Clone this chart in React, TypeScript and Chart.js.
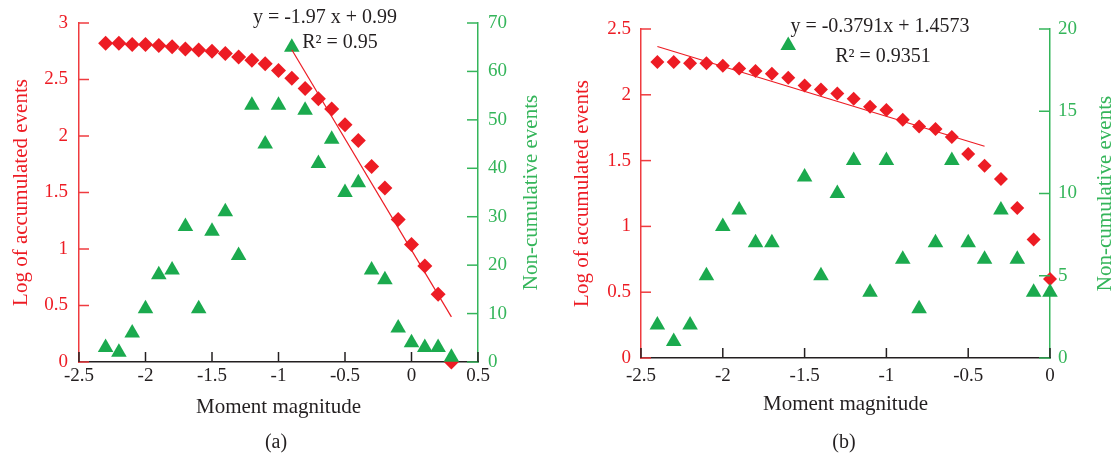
import React, { useEffect, useRef } from 'react';
import { Chart, registerables } from 'chart.js';

Chart.register(...registerables);

// ---------- Data: panel (a) ----------
const magnitudeA = [-2.3, -2.2, -2.1, -2.0, -1.9, -1.8, -1.7, -1.6, -1.5, -1.4, -1.3, -1.2, -1.1, -1.0, -0.9, -0.8, -0.7, -0.6, -0.5, -0.4, -0.3, -0.2, -0.1, 0.0, 0.1, 0.2, 0.3];
const logAccumulatedA = [2.82, 2.82, 2.81, 2.81, 2.80, 2.79, 2.77, 2.76, 2.75, 2.73, 2.70, 2.67, 2.64, 2.58, 2.51, 2.42, 2.33, 2.24, 2.10, 1.96, 1.73, 1.54, 1.26, 1.04, 0.85, 0.60, 0.0];
const nonCumulativeA = [3, 2, 6, 11, 18, 19, 28, 11, 27, 31, 22, 53, 45, 53, 65, 52, 41, 46, 35, 37, 19, 17, 7, 4, 3, 3, 1];
const trendXA = [-0.9, 0.3];
const trendYA = [2.763, 0.399];
const xTickLabelsA = ['-2.5', '-2', '-1.5', '-1', '-0.5', '0', '0.5'];
const yTickLabelsA = ['0', '0.5', '1', '1.5', '2', '2.5', '3'];
const y1TickLabelsA = ['0', '10', '20', '30', '40', '50', '60', '70'];

// ---------- Data: panel (b) ----------
const magnitudeB = [-2.4, -2.3, -2.2, -2.1, -2.0, -1.9, -1.8, -1.7, -1.6, -1.5, -1.4, -1.3, -1.2, -1.1, -1.0, -0.9, -0.8, -0.7, -0.6, -0.5, -0.4, -0.3, -0.2, -0.1, 0.0];
const logAccumulatedB = [2.25, 2.25, 2.24, 2.24, 2.22, 2.20, 2.18, 2.16, 2.13, 2.07, 2.04, 2.01, 1.97, 1.91, 1.885, 1.81, 1.76, 1.74, 1.68, 1.55, 1.46, 1.36, 1.14, 0.90, 0.60];
const nonCumulativeB = [2, 1, 2, 5, 8, 9, 7, 7, 19, 11, 5, 10, 12, 4, 12, 6, 3, 7, 12, 7, 6, 9, 6, 4, 4];
const trendXB = [-2.4, -0.4];
const trendYB = [2.367, 1.609];
const xTickLabelsB = ['-2.5', '-2', '-1.5', '-1', '-0.5', '0'];
const yTickLabelsB = ['0', '0.5', '1', '1.5', '2', '2.5'];
const y1TickLabelsB = ['0', '5', '10', '15', '20'];

const FONT = '"Liberation Serif", "Times New Roman", serif';
const RED = '#ED1C24';
const RED_AXIS = '#EF3B3F';
const GREEN = '#1BAA4E';
const GREEN_AXIS = '#34B55A';
const BLACK = '#231F20';

interface PanelSpec {
  id: string;
  left: number;
  width: number;
  height: number;
  padTop: number;
  leftW: number;
  rightW: number;
  bottomH: number;
  xMin: number;
  xMax: number;
  yMax: number;
  y1Max: number;
  y1Step: number;
  xPad: number;
  yPad: number;
  y1Pad: number;
  diamondR: number;
  mags: number[];
  logs: number[];
  counts: number[];
  trendX: number[];
  trendY: number[];
  xLabels: string[];
  yLabels: string[];
  y1Labels: string[];
  leftTitleX: number;
  rightTitleX: number;
  xTitleY: number;
  caption: string;
  captionX: number;
  captionY: number;
  eq: string;
  eqX: number;
  eqY: number;
  r2: string;
  r2X: number;
  r2Y: number;
}

const panels: PanelSpec[] = [
  {
    id: 'a', left: 0, width: 556, height: 459, padTop: 23, leftW: 79, rightW: 78, bottomH: 97,
    xMin: -2.5, xMax: 0.5, yMax: 3, y1Max: 70, y1Step: 10, xPad: 3, yPad: 11, y1Pad: 10, diamondR: 7.5,
    mags: magnitudeA, logs: logAccumulatedA, counts: nonCumulativeA, trendX: trendXA, trendY: trendYA,
    xLabels: xTickLabelsA, yLabels: yTickLabelsA, y1Labels: y1TickLabelsA,
    leftTitleX: 27, rightTitleX: 537, xTitleY: 413,
    caption: '(a)', captionX: 276, captionY: 448,
    eq: 'y = -1.97 x + 0.99', eqX: 325, eqY: 23, r2: 'R\u00B2 = 0.95', r2X: 340, r2Y: 48,
  },
  {
    id: 'b', left: 556, width: 557, height: 459, padTop: 29, leftW: 85, rightW: 63, bottomH: 101,
    xMin: -2.5, xMax: 0, yMax: 2.5, y1Max: 20, y1Step: 5, xPad: 7, yPad: 10, y1Pad: 8, diamondR: 7,
    mags: magnitudeB, logs: logAccumulatedB, counts: nonCumulativeB, trendX: trendXB, trendY: trendYB,
    xLabels: xTickLabelsB, yLabels: yTickLabelsB, y1Labels: y1TickLabelsB,
    leftTitleX: 32, rightTitleX: 555, xTitleY: 410,
    caption: '(b)', captionX: 288, captionY: 448,
    eq: 'y = -0.3791x + 1.4573', eqX: 324, eqY: 32, r2: 'R\u00B2 = 0.9351', r2X: 327, r2Y: 62,
  },
];

function decorPlugin(p: PanelSpec) {
  return {
    id: 'decor_' + p.id,
    afterDraw(chart: any) {
      const ctx: CanvasRenderingContext2D = chart.ctx;
      const area = chart.chartArea;
      const sx = chart.scales.x;
      const sy = chart.scales.y;
      const sy1 = chart.scales.y1;
      ctx.save();
      ctx.lineWidth = 1.5;
      // inward ticks: left axis
      ctx.strokeStyle = RED_AXIS;
      sy.ticks.forEach((t: any) => {
        const py = sy.getPixelForValue(t.value);
        ctx.beginPath();
        ctx.moveTo(area.left, py);
        ctx.lineTo(area.left + 10, py);
        ctx.stroke();
      });
      // right axis
      ctx.strokeStyle = GREEN_AXIS;
      sy1.ticks.forEach((t: any) => {
        const py = sy1.getPixelForValue(t.value);
        ctx.beginPath();
        ctx.moveTo(area.right, py);
        ctx.lineTo(area.right - 11, py);
        ctx.stroke();
      });
      // x axis
      ctx.strokeStyle = BLACK;
      sx.ticks.forEach((t: any) => {
        const px = sx.getPixelForValue(t.value);
        ctx.beginPath();
        ctx.moveTo(px, area.bottom);
        ctx.lineTo(px, area.bottom - 10);
        ctx.stroke();
      });

      const cy = (area.top + area.bottom) / 2;
      const cx = (area.left + area.right) / 2;
      ctx.textBaseline = 'alphabetic';
      ctx.textAlign = 'center';
      ctx.font = `21px ${FONT}`;

      // left title
      ctx.save();
      ctx.fillStyle = RED;
      ctx.translate(p.leftTitleX, cy);
      ctx.rotate(-Math.PI / 2);
      ctx.fillText('Log of accumulated events', 0, 0);
      ctx.restore();

      // right title
      ctx.save();
      ctx.fillStyle = GREEN_AXIS;
      ctx.translate(p.rightTitleX, cy);
      ctx.rotate(-Math.PI / 2);
      ctx.fillText('Non-cumulative events', 0, 0);
      ctx.restore();

      // x title
      ctx.fillStyle = BLACK;
      ctx.fillText('Moment magnitude', cx, p.xTitleY);

      // caption
      ctx.font = `20px ${FONT}`;
      ctx.fillText(p.caption, p.captionX, p.captionY);

      // regression annotation
      ctx.fillText(p.eq, p.eqX, p.eqY);
      ctx.fillText(p.r2, p.r2X, p.r2Y);
      ctx.restore();
    },
  };
}

function makeConfig(p: PanelSpec): any {
  const diamonds = p.mags.map((m, i) => ({ x: m, y: p.logs[i] }));
  const triangles = p.mags.map((m, i) => ({ x: m, y: p.counts[i] }));
  const trend = p.trendX.map((m, i) => ({ x: m, y: p.trendY[i] }));
  const tickFont = { family: FONT, size: 19 };
  return {
    type: 'scatter',
    data: {
      datasets: [
        {
          label: 'fit',
          data: trend,
          showLine: true,
          borderColor: RED,
          borderWidth: 1.2,
          pointRadius: 0,
          yAxisID: 'y',
          clip: false,
        },
        {
          label: 'Non-cumulative events',
          data: triangles,
          pointStyle: 'triangle',
          pointRadius: 9,
          pointBackgroundColor: GREEN,
          pointBorderWidth: 0,
          borderWidth: 0,
          yAxisID: 'y1',
          clip: false,
        },
        {
          label: 'Log of accumulated events',
          data: diamonds,
          pointStyle: 'rectRot',
          pointRadius: p.diamondR,
          pointBackgroundColor: RED,
          pointBorderWidth: 0,
          borderWidth: 0,
          yAxisID: 'y',
          clip: false,
        },
      ],
    },
    options: {
      animation: false,
      responsive: false,
      maintainAspectRatio: false,
      events: [],
      layout: { padding: { top: p.padTop, left: 0, right: 0, bottom: 0 } },
      plugins: { legend: { display: false }, tooltip: { enabled: false }, title: { display: false } },
      scales: {
        x: {
          type: 'linear',
          position: 'bottom',
          min: p.xMin,
          max: p.xMax,
          grid: { display: false, drawTicks: false },
          border: { display: true, color: BLACK, width: 1.5 },
          ticks: {
            stepSize: 0.5,
            padding: p.xPad,
            color: BLACK,
            font: tickFont,
            autoSkip: false,
            maxRotation: 0,
            callback: (_v: any, i: number) => p.xLabels[i],
          },
          afterFit: (s: any) => { s.height = p.bottomH; },
        },
        y: {
          type: 'linear',
          position: 'left',
          min: 0,
          max: p.yMax,
          grid: { display: false, drawTicks: false },
          border: { display: true, color: RED_AXIS, width: 1.5 },
          ticks: {
            stepSize: 0.5,
            padding: p.yPad,
            color: RED,
            font: tickFont,
            autoSkip: false,
            callback: (_v: any, i: number) => p.yLabels[i],
          },
          afterFit: (s: any) => { s.width = p.leftW; },
        },
        y1: {
          type: 'linear',
          position: 'right',
          min: 0,
          max: p.y1Max,
          grid: { display: false, drawTicks: false },
          border: { display: true, color: GREEN_AXIS, width: 1.5 },
          ticks: {
            stepSize: p.y1Step,
            padding: p.y1Pad,
            color: GREEN_AXIS,
            font: tickFont,
            autoSkip: false,
            callback: (_v: any, i: number) => p.y1Labels[i],
          },
          afterFit: (s: any) => { s.width = p.rightW; },
        },
      },
    },
    plugins: [decorPlugin(p)],
  };
}

function Panel({ spec }: { spec: PanelSpec }) {
  const ref = useRef<HTMLCanvasElement | null>(null);
  useEffect(() => {
    if (!ref.current) return;
    const chart = new Chart(ref.current, makeConfig(spec));
    return () => chart.destroy();
  }, [spec]);
  return (
    <canvas
      ref={ref}
      width={spec.width}
      height={spec.height}
      style={{ position: 'absolute', left: spec.left, top: 0, width: spec.width, height: spec.height }}
    />
  );
}

export default function App() {
  return (
    <div style={{ position: 'fixed', left: 0, top: 0, width: 1113, height: 459, background: '#ffffff', overflow: 'hidden' }}>
      {panels.map((p) => (
        <Panel key={p.id} spec={p} />
      ))}
    </div>
  );
}
